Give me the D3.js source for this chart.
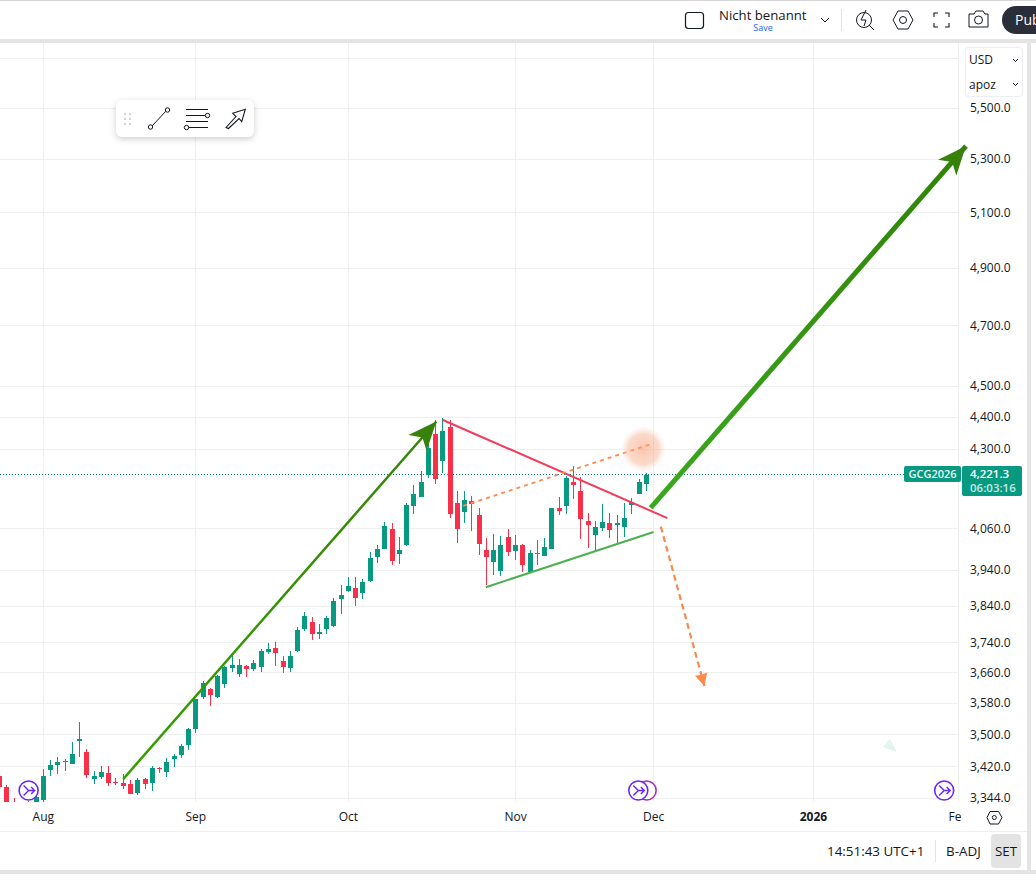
<!DOCTYPE html>
<html>
<head>
<meta charset="utf-8">
<script src="https://cdn.jsdelivr.net/npm/d3@7"></script>
<style>
  html, body { margin: 0; padding: 0; background: #fff; overflow: hidden; }
  text { font-family: "Open Sans", sans-serif; fill: #131722; }
</style>
</head>
<body>
<svg id="Vis" width="1036" height="882"></svg>
<script>
/* DATA: daily candles */
const opens = [3398,3371,3335,3325,3330,3332,3339,3412,3424,3434,3427,3484,3457,3390,3395,3405,3383,3380,3378,3356,3390,3380,3417,3407,3439,3450,3474,3514,3596,3617,3596,3630,3672,3657,3678,3670,3675,3715,3726,3691,3672,3717,3778,3797,3764,3778,3786,3860,3883,3891,3877,3911,3979,4002,4060,3987,4014,4128,4155,4221,4348,4264,4370,4137,4110,4143,4101,3999,3965,3939,4037,3996,4014,3936,3990,3982,4002,4122,4128,4200,4173,4083,4042,4063,4078,4072,4066,4131,4164,4194];
const highs = [3408,3376,3344,3330,3336,3349,3415,3437,3444,3439,3482,3533,3464,3410,3422,3422,3392,3402,3388,3393,3393,3422,3420,3442,3452,3477,3517,3592,3638,3620,3654,3678,3705,3696,3680,3694,3723,3739,3742,3705,3717,3783,3824,3810,3791,3813,3863,3900,3922,3922,3916,3993,4014,4081,4078,4037,4137,4191,4233,4315,4392,4398,4392,4173,4173,4158,4122,4034,4045,4040,4060,4042,4016,3999,4028,4034,4122,4155,4218,4248,4215,4107,4083,4134,4107,4101,4137,4152,4209,4227];
const lows = [3366,3325,3300,3300,3310,3325,3332,3398,3402,3409,3427,3444,3392,3378,3390,3373,3376,3366,3353,3351,3366,3361,3405,3395,3420,3442,3462,3504,3591,3573,3594,3620,3662,3649,3649,3665,3662,3710,3678,3659,3662,3716,3772,3748,3750,3764,3783,3818,3880,3841,3860,3908,3961,4001,3956,3959,4011,4104,4154,4212,4194,4227,4092,4019,4078,4054,3984,3900,3927,3925,3982,3970,3936,3935,3956,3981,4001,4101,4104,4149,4031,4005,3996,4054,4034,4016,4037,4104,4163,4173];
const closes = [3371,3332,3310,3320,3320,3347,3398,3424,3432,3431,3452,3489,3400,3398,3407,3380,3380,3373,3354,3388,3378,3417,3415,3432,3447,3472,3514,3591,3633,3601,3652,3675,3680,3680,3670,3686,3717,3723,3712,3675,3704,3775,3813,3764,3769,3808,3855,3871,3897,3863,3908,3976,4002,4069,3967,3999,4131,4164,4200,4304,4209,4357,4104,4060,4146,4134,4016,3979,3999,4014,3993,4014,3956,3990,3987,4008,4122,4113,4212,4191,4089,4072,4066,4081,4057,4078,4092,4140,4200,4221.3];

const lastPrice = 4221.3;
const symbolName = "GCG2026";
const countdown = "06:03:16";

const priceTicks = [5700,5500,5300,5100,4900,4700,4500,4400,4300,4060,3940,3840,3740,3660,3580,3500,3420,3344];
const timeBars = [6,27,48,71,90,112,132];
const timeLabels = ["Aug","Sep","Oct","Nov","Dec","2026","Feb"];

// drawings, [bar, price]
const riseArrow = [[17,3390],[60.1,4387]];
const targetArrow = [[89.6,4122],[133,5351]];
const fallArrow = [[91,4067],[97,3625]];
const upperLine = [[61,4392],[91.9,4092]];
const lowerLine = [[66.9,3893],[90,4051]];
const dottedLine = [[63.8,4128],[90,4319]];
const glowSpot = [88.6,4301];
const fadedHead = [122.4,3472];
const eventBars = [3.98,89.05,87.9,130];
const eventColors = ["#6a26ff","#b02bb8","#6a26ff","#6a26ff"];

const up = "#089981", down = "#f8304a";

/* LAYOUT */
const chart = {left: 0, right: 958, top: 43, bottom: 802};

const svg = d3.select("svg#Vis");
const defs = svg.append("defs");
defs.append("clipPath").attr("id", "plot-clip").append("rect")
  .attr("x", chart.left).attr("y", chart.top)
  .attr("width", chart.right - chart.left).attr("height", chart.bottom - chart.top);
defs.append("clipPath").attr("id", "time-clip").append("rect")
  .attr("x", 0).attr("y", 0).attr("width", 962).attr("height", 30);

const glow = defs.append("radialGradient").attr("id", "glow");
glow.append("stop").attr("offset", "0%").attr("stop-color", "#f5a07a").attr("stop-opacity", 0.6);
glow.append("stop").attr("offset", "70%").attr("stop-color", "#f7ad8c").attr("stop-opacity", 0.45);
glow.append("stop").attr("offset", "100%").attr("stop-color", "#fbd5c4").attr("stop-opacity", 0.08);

/* SCALES */
const xScale = d3.scaleLinear().domain([0, 132]).range([-0.3, 958.7]);
const yScale = d3.scaleLog().domain([3344, 5500]).range([798, 108]);

const pt = d => [xScale(d[0]), yScale(d[1])];
const crisp = v => Math.floor(v) + 0.5;

/* GRID */
const grid = svg.append("g").attr("id", "grid").attr("stroke", "#efefef").attr("stroke-width", 1);
grid.selectAll("line.h").data(priceTicks).enter().append("line")
    .attr("class", "h")
    .attr("x1", chart.left).attr("x2", chart.right)
    .attr("y1", d => crisp(yScale(d))).attr("y2", d => crisp(yScale(d)));
grid.selectAll("line.v").data(timeBars.slice(0, 6)).enter().append("line")
    .attr("class", "v")
    .attr("y1", chart.top).attr("y2", chart.bottom)
    .attr("x1", d => crisp(xScale(d))).attr("x2", d => crisp(xScale(d)));

/* CANDLES */
const plot = svg.append("g").attr("id", "plot").attr("clip-path", "url(#plot-clip)");

// last price line
plot.append("line")
    .attr("x1", chart.left).attr("x2", chart.right)
    .attr("y1", crisp(yScale(lastPrice))).attr("y2", crisp(yScale(lastPrice)))
    .attr("stroke", "#0a7f6c").attr("stroke-width", 1).attr("stroke-dasharray", "1 2");

const candles = plot.selectAll("g.candle").data(closes).enter().append("g").attr("class", "candle");
candles.append("line")
    .attr("x1", (d, i) => crisp(xScale(i))).attr("x2", (d, i) => crisp(xScale(i)))
    .attr("y1", (d, i) => Math.round(yScale(highs[i]))).attr("y2", (d, i) => Math.round(yScale(lows[i])))
    .attr("stroke", (d, i) => d >= opens[i] ? up : down);
candles.append("rect")
    .attr("x", (d, i) => Math.floor(xScale(i)) - 2)
    .attr("width", 5)
    .attr("y", (d, i) => Math.round(yScale(Math.max(d, opens[i]))))
    .attr("height", (d, i) => Math.max(1, Math.round(yScale(Math.min(d, opens[i]))) - Math.round(yScale(Math.max(d, opens[i])))))
    .attr("fill", (d, i) => d >= opens[i] ? up : down);

/* RIGHT AXIS + TIME AXIS */
svg.append("line").attr("x1", 958.5).attr("x2", 958.5).attr("y1", chart.top).attr("y2", chart.bottom).attr("stroke", "#eceef2");

const axisG = svg.append("g").attr("id", "price-axis").attr("transform", "translate(958,-0.5)");
const priceAxis = d3.axisRight(yScale).tickValues(priceTicks.slice(1))
    .tickFormat(d => d3.format(",.1f")(d)).tickSize(0).tickPadding(12);
axisG.call(priceAxis);
axisG.select(".domain").remove();
axisG.selectAll("text").style("font-size", "12px").attr("fill", "#131722");

const timeG = svg.append("g").attr("id", "time-axis").attr("transform", "translate(-0.5,802)").attr("clip-path", "url(#time-clip)");
const timeAxis = d3.axisBottom(xScale).tickValues(timeBars)
    .tickFormat((d, i) => timeLabels[i]).tickSize(0).tickPadding(10);
timeG.call(timeAxis);
timeG.select(".domain").remove();
timeG.selectAll("text").style("font-size", "12px").style("font-weight", d => d === 112 ? 700 : 400);

/* DRAWINGS */
const drawings = svg.append("g").attr("id", "drawings");

function drawLine(points, color, width, dash) {
  const a = pt(points[0]), b = pt(points[1]);
  return drawings.append("line")
      .attr("x1", a[0]).attr("y1", a[1]).attr("x2", b[0]).attr("y2", b[1])
      .attr("stroke", color).attr("stroke-width", width)
      .attr("stroke-dasharray", dash || null);
}

// colour fades from the start of the line to its end
function fade(points, id, from, to) {
  const a = pt(points[0]), b = pt(points[1]);
  const g = defs.append("linearGradient").attr("id", id).attr("gradientUnits", "userSpaceOnUse")
      .attr("x1", a[0]).attr("y1", a[1]).attr("x2", b[0]).attr("y2", b[1]);
  g.append("stop").attr("offset", "0%").attr("stop-color", from);
  g.append("stop").attr("offset", "100%").attr("stop-color", to);
  return "url(#" + id + ")";
}

// arrow head with its tip on the end of the line
function drawHead(points, color, length, spread, notch) {
  const a = pt(points[0]), b = pt(points[1]);
  const ang = Math.atan2(b[1] - a[1], b[0] - a[0]);
  const at = (r, t) => [b[0] - r * Math.cos(ang + t), b[1] - r * Math.sin(ang + t)];
  const shape = [b, at(length, spread), at(length * notch, 0), at(length, -spread)];
  drawings.append("path").attr("d", "M" + shape.join("L") + "Z").attr("fill", color);
}

drawLine(upperLine, "#f23d5a", 2);
drawLine(lowerLine, "#4caf50", 2);
drawLine(dottedLine, "#ff8a50", 1.7, "4 4");

const spot = pt(glowSpot);
drawings.append("circle").attr("cx", spot[0]).attr("cy", spot[1]).attr("r", 22).attr("fill", "url(#glow)");

drawLine(riseArrow, fade(riseArrow, "rise-fade", "#32a000", "#388408"), 2.5);
drawHead(riseArrow, "#38820c", 31, 0.4, 0.68);
drawLine(targetArrow, fade(targetArrow, "target-fade", "#3ba81f", "#2f8205"), 5);
drawHead(targetArrow, "#38820c", 31, 0.4, 0.68);
drawLine(fallArrow, "#f98a4b", 2.2, "6 4");
drawHead(fallArrow, "#f98a4b", 14, 0.47, 0.85);

const faded = pt(fadedHead);
drawings.append("path")
    .attr("d", d3.line()([[faded[0] + 1, faded[1] - 7], [faded[0] - 6, faded[1] + 1], [faded[0] + 8, faded[1] + 6]]) + "Z")
    .attr("fill", "#e2f5f0");

/* EVENT MARKS */
const marks = svg.append("g").attr("id", "events");
eventBars.forEach((b, i) => {
  const g = marks.append("g").attr("transform", "translate(" + xScale(b) + ",790.5)");
  const color = eventColors[i];
  g.append("circle").attr("r", 9.5).attr("fill", "#fff").attr("stroke", color).attr("stroke-width", 1.6);
  // the second mark is mostly hidden behind the third, its arrow does not show
  if (i !== 1) {
    g.append("path").attr("d", "M-5,-5 L0,0 L-5,5 M0,0 L6,0 M2.5,-3.5 L6,0 L2.5,3.5")
      .attr("fill", "none").attr("stroke", color).attr("stroke-width", 1.4);
  }
});

/* PRICE LABELS */
const labels = svg.append("g").attr("id", "labels");
const yLast = Math.floor(yScale(lastPrice));
labels.append("rect").attr("x", 904).attr("y", yLast - 8).attr("width", 57).attr("height", 16).attr("rx", 2).attr("fill", up);
labels.append("text").attr("x", 932.5).attr("y", yLast + 4).attr("text-anchor", "middle")
    .style("font-size", "11px").style("font-weight", 600).style("fill", "#e8f7f4").text(symbolName);
labels.append("rect").attr("x", 962).attr("y", yLast - 8).attr("width", 60).attr("height", 30).attr("rx", 2).attr("fill", up);
labels.append("text").attr("x", 970).attr("y", yLast + 4)
    .style("font-size", "11.5px").style("font-weight", 600).style("fill", "#fff").text(d3.format(",.1f")(lastPrice));
labels.append("text").attr("x", 970).attr("y", yLast + 18)
    .style("font-size", "11.5px").style("font-weight", 600).style("fill", "#c5ebe3").text(countdown);

/* PAGE FRAME */
const frame = svg.append("g").attr("id", "frame");
frame.append("rect").attr("x", 0).attr("y", 0).attr("width", 1036).attr("height", 1).attr("fill", "#d6d6d6");
frame.append("rect").attr("x", 0).attr("y", 39).attr("width", 1036).attr("height", 4).attr("fill", "#e4e4e4");
frame.append("rect").attr("x", 1027).attr("y", 43).attr("width", 4).attr("height", 827).attr("fill", "#e4e4e4");
frame.append("rect").attr("x", 0).attr("y", 831).attr("width", 1027).attr("height", 1).attr("fill", "#eceef2");
frame.append("rect").attr("x", 0).attr("y", 870).attr("width", 1036).attr("height", 4).attr("fill", "#e4e4e4");

// top bar
frame.append("rect").attr("x", 685.5).attr("y", 12.5).attr("width", 18).attr("height", 16).attr("rx", 3)
    .attr("fill", "none").attr("stroke", "#131722").attr("stroke-width", 1.2);
frame.append("text").attr("x", 719).attr("y", 20).style("font-size", "13.2px").text("Nicht benannt");
frame.append("text").attr("x", 763).attr("y", 31).attr("text-anchor", "middle").style("font-size", "9px").style("fill", "#2962ff").text("Save");
frame.append("path").attr("d", "M821,18 L825,22 L829,18").attr("fill", "none").attr("stroke", "#131722");
frame.append("line").attr("x1", 841.5).attr("x2", 841.5).attr("y1", 9).attr("y2", 31).attr("stroke", "#e0e3eb");
frame.append("circle").attr("cx", 864).attr("cy", 20).attr("r", 7.5).attr("fill", "none").attr("stroke", "#131722").attr("stroke-width", 1);
frame.append("path").attr("d", "M866,10 L861,20 L866,20 L864,26 M869,25 L874,30").attr("fill", "none").attr("stroke", "#131722").attr("stroke-width", 1);
frame.append("path").attr("d", "M893,20 L898,11 L908,11 L913,20 L908,29 L898,29 Z").attr("fill", "none").attr("stroke", "#131722").attr("stroke-width", 1);
frame.append("circle").attr("cx", 903).attr("cy", 20).attr("r", 3.5).attr("fill", "none").attr("stroke", "#131722").attr("stroke-width", 1);
frame.append("path").attr("d", "M934,17 L934,13 L938,13 M945,13 L949,13 L949,17 M949,23 L949,27 L945,27 M938,27 L934,27 L934,23").attr("fill", "none").attr("stroke", "#131722").attr("stroke-width", 1.1);
frame.append("path").attr("d", "M969,14 L974,14 L976,11 L983,11 L985,14 L988,14 L988,27 L969,27 Z").attr("fill", "none").attr("stroke", "#131722").attr("stroke-width", 1);
frame.append("circle").attr("cx", 978.5).attr("cy", 20).attr("r", 4).attr("fill", "none").attr("stroke", "#131722").attr("stroke-width", 1);
frame.append("rect").attr("x", 1002).attr("y", 6).attr("width", 60).attr("height", 28).attr("rx", 14).attr("fill", "#2a2e39");
frame.append("text").attr("x", 1015).attr("y", 25).style("font-size", "14px").style("fill", "#fff").text("Pub");

// currency box
frame.append("rect").attr("x", 965.5).attr("y", 47.5).attr("width", 57).attr("height", 49).attr("rx", 3).attr("fill", "#fff").attr("stroke", "#eceef2");
frame.append("text").attr("x", 969).attr("y", 64).style("font-size", "12px").text("USD");
frame.append("text").attr("x", 969).attr("y", 89).style("font-size", "12px").text("apoz");
frame.append("path").attr("d", "M1013,59 L1015.5,61.5 L1018,59 M1013,83 L1015.5,85.5 L1018,83").attr("fill", "none").attr("stroke", "#131722");

// floating toolbar
frame.append("rect").attr("x", 116).attr("y", 100).attr("width", 138).attr("height", 37).attr("rx", 6)
    .attr("fill", "#fff").style("filter", "drop-shadow(0 2px 3px rgba(0,0,0,0.2))");
d3.range(3).forEach(r => [0, 1].forEach(c => {
  frame.append("circle").attr("cx", 125 + c * 5).attr("cy", 114 + r * 5).attr("r", 1.1).attr("fill", "#c4c7ce");
}));
frame.append("path").attr("d", "M152,126 L166,111").attr("stroke", "#131722").attr("stroke-width", 1);
frame.append("circle").attr("cx", 150.5).attr("cy", 127).attr("r", 2.2).attr("fill", "#fff").attr("stroke", "#131722");
frame.append("circle").attr("cx", 167.5).attr("cy", 110).attr("r", 2.2).attr("fill", "#fff").attr("stroke", "#131722");
frame.append("path").attr("d", "M186,109.5 H208 M186,115.5 H205 M186,121.5 H208 M188,127.5 H208").attr("stroke", "#131722").attr("stroke-width", 1.2);
frame.append("circle").attr("cx", 207.5).attr("cy", 115.5).attr("r", 2.2).attr("fill", "#fff").attr("stroke", "#131722");
frame.append("circle").attr("cx", 186.5).attr("cy", 127.5).attr("r", 2.2).attr("fill", "#fff").attr("stroke", "#131722");
frame.append("path").attr("d", "M226,127.5 L236,116.5 L232.7,113.3 L245.3,109.3 L241.7,121.7 L239,118.5 L228.5,128.5 Z").attr("fill", "#fff").attr("stroke", "#131722").attr("stroke-width", 1.1);

// hexagon under the price axis
frame.append("path").attr("d", "M987,817.5 L990,811.5 L998.5,811.5 L1002,817.5 L998.5,824 L990,824 Z").attr("fill", "none").attr("stroke", "#131722");
frame.append("circle").attr("cx", 994.3).attr("cy", 817.5).attr("r", 2).attr("fill", "none").attr("stroke", "#131722");

// bottom bar
frame.append("text").attr("x", 827).attr("y", 856).style("font-size", "13.4px").text("14:51:43 UTC+1");
frame.append("line").attr("x1", 935.5).attr("x2", 935.5).attr("y1", 840).attr("y2", 862).attr("stroke", "#e0e3eb");
frame.append("text").attr("x", 946).attr("y", 856).style("font-size", "13.4px").text("B-ADJ");
frame.append("rect").attr("x", 991).attr("y", 834).attr("width", 30).attr("height", 34).attr("rx", 4).attr("fill", "#e3e3e3");
frame.append("text").attr("x", 995).attr("y", 856).style("font-size", "13.4px").text("SET");
</script>
</body>
</html>
